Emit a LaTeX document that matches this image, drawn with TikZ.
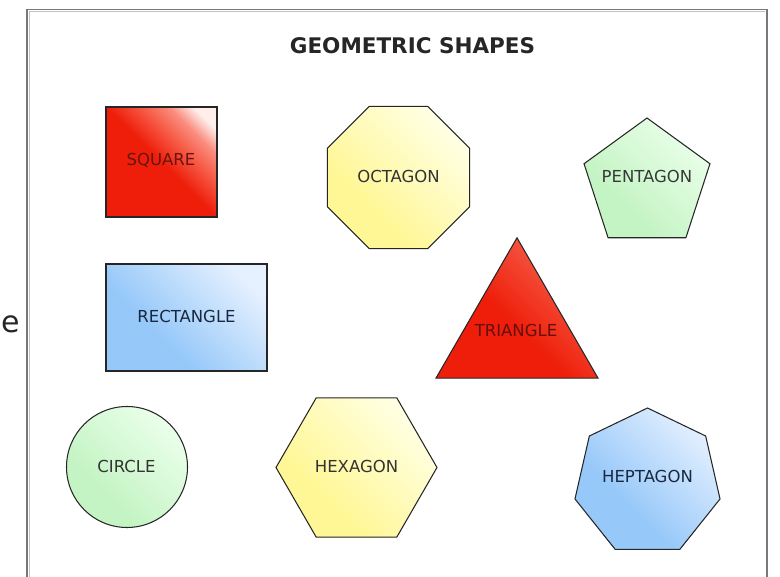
\documentclass[tikz,border=0pt]{standalone}
\usepackage{fontspec}
\setmainfont{DejaVu Sans}
\usetikzlibrary{shapes.geometric}
\definecolor{redA}{RGB}{238,30,10}
\definecolor{redM}{RGB}{246,95,75}
\definecolor{redB}{RGB}{250,140,125}
\definecolor{redC}{RGB}{255,238,235}
\definecolor{yelA}{RGB}{255,247,150}
\definecolor{yelB}{RGB}{255,255,228}
\definecolor{grnA}{RGB}{196,244,196}
\definecolor{grnB}{RGB}{234,255,234}
\definecolor{bluA}{RGB}{150,200,249}
\definecolor{bluB}{RGB}{230,241,255}
\definecolor{frameC}{RGB}{120,120,120}
\pgfdeclareverticalshading{redsq}{100bp}{color(0bp)=(redA); color(50bp)=(redA); color(62bp)=(redM); color(70bp)=(redB); color(78bp)=(redC); color(100bp)=(redC)}
\pgfdeclareverticalshading{redtri}{100bp}{color(0bp)=(redA); color(45bp)=(redA); color(72bp)=(redM); color(100bp)=(redM)}
\pgfdeclareverticalshading{yelsh}{100bp}{color(0bp)=(yelA); color(35bp)=(yelA); color(75bp)=(yelB); color(100bp)=(yelB)}
\pgfdeclareverticalshading{grnsh}{100bp}{color(0bp)=(grnA); color(35bp)=(grnA); color(75bp)=(grnB); color(100bp)=(grnB)}
\pgfdeclareverticalshading{blush}{100bp}{color(0bp)=(bluA); color(38bp)=(bluA); color(76bp)=(bluB); color(100bp)=(bluB)}
\tikzset{
  shp/.style={draw=black!85, line width=1.05pt, line join=miter, shading angle=-45},
  lbl/.style={font=\fontsize{16.5}{17}\selectfont, inner sep=0pt},
}
\begin{document}
\begin{tikzpicture}[x=1pt, y=-1pt]
\useasboundingbox (0,0) rectangle (780,577);
\clip (0,0) rectangle (780,577);
\fill[white] (0,0) rectangle (780,577);
% frame
\draw[frameC!45, line width=1pt] (29.3,600) -- (29.3,11.8) -- (765,11.8);
\draw[frameC, line width=1.6pt] (26.8,600) -- (26.8,9.4) -- (767.2,9.4) -- (767.2,600);
% letter at left edge
\node[font=\fontsize{30}{30}\selectfont, anchor=west, inner sep=0pt, text=black!85] (cut) at (1,324) {e};
% title
\node[font=\bfseries\fontsize{21.5}{22}\selectfont, text=black!85] (title) at (412.5,46) {GEOMETRIC SHAPES};
% square
\shade[shp, shading=redsq] (106,107) rectangle (217,217);
\node[lbl, text={rgb,255:red,105;green,20;blue,15}] (square) at (161,160) {SQUARE};
% octagon
\shade[shp, shading=yelsh, shift={(398.5,177.5)}] (22.5:76.9) \foreach \k in {1,...,7}{ -- (22.5+45*\k:76.9)} -- cycle;
\node[lbl, text=black!80] (octagon) at (398.5,176) {OCTAGON};
% pentagon
\shade[shp, shading=grnsh, shift={(647,184.2)}] (270:66.2) \foreach \k in {1,...,4}{ -- (270+72*\k:66.2)} -- cycle;
\node[lbl, text=black!78] (pentagon) at (647,176) {PENTAGON};
% rectangle
\shade[shp, shading=blush] (106,264) rectangle (267,371);
\node[lbl, text={rgb,255:red,25;green,40;blue,65}] (rectangle) at (186.5,316) {RECTANGLE};
% triangle
\shade[shp, shading=redtri, shift={(517,331.3)}] (270:93.5) -- (30:93.5) -- (150:93.5) -- cycle;
\node[lbl, text={rgb,255:red,100;green,15;blue,10}] (triangle) at (516,330) {TRIANGLE};
% circle
\shade[shp, shading=grnsh] (127,467) circle[radius=60.5];
\node[lbl, text=black!80] (circle) at (126.5,466) {CIRCLE};
% hexagon
\shade[shp, shading=yelsh, shift={(356.5,467.5)}] (0:80.5) \foreach \k in {1,...,5}{ -- (60*\k:80.5)} -- cycle;
\node[lbl, text=black!80] (hexagon) at (356.5,466) {HEXAGON};
% heptagon
\shade[shp, shading=blush, shift={(647.5,482.4)}] (270:74.4) \foreach \k in {1,...,6}{ -- (270+51.42857*\k:74.4)} -- cycle;
\node[lbl, text={rgb,255:red,25;green,40;blue,65}] (heptagon) at (647.5,476) {HEPTAGON};
\end{tikzpicture}
\end{document}
